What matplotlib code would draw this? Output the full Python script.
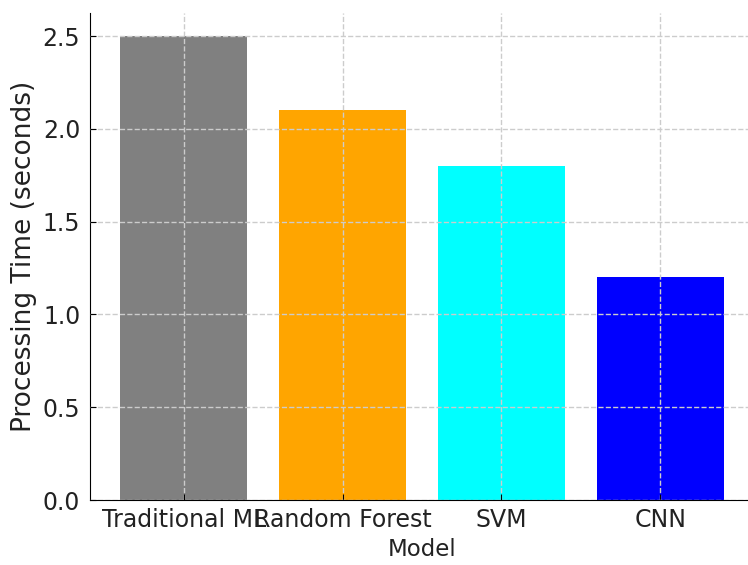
import matplotlib
matplotlib.use("Agg")
import matplotlib.pyplot as plt

models = ["Traditional ML", "Random Forest", "SVM", "CNN"]
times = [2.5, 2.1, 1.8, 1.2]
colors = ["gray", "orange", "cyan", "blue"]

fig = plt.figure(figsize=(7.48, 5.65), dpi=100)
# axes run slightly past the right edge of the canvas
ax = fig.add_axes([90 / 748, 1 - 500 / 565, 664 / 748, 487 / 565])

ax.bar(models, times, color=colors)
ax.set_xlabel("Model", fontsize=16.5, color="#222222", labelpad=4)
ax.set_ylabel("Processing Time (seconds)", fontsize=19, color="#222222", labelpad=4)
ax.set_yticks([0.0, 0.5, 1.0, 1.5, 2.0, 2.5])
ax.tick_params(axis="both", direction="in", labelsize=17, labelcolor="#222222", length=4)
ax.tick_params(axis="x", pad=6)
ax.tick_params(axis="y", pad=7)
ax.grid(True, linestyle="--", color="#cccccc", linewidth=1)
ax.set_axisbelow(False)
ax.spines["top"].set_visible(False)
ax.spines["right"].set_visible(False)

fig.savefig("out.png", dpi=100)
